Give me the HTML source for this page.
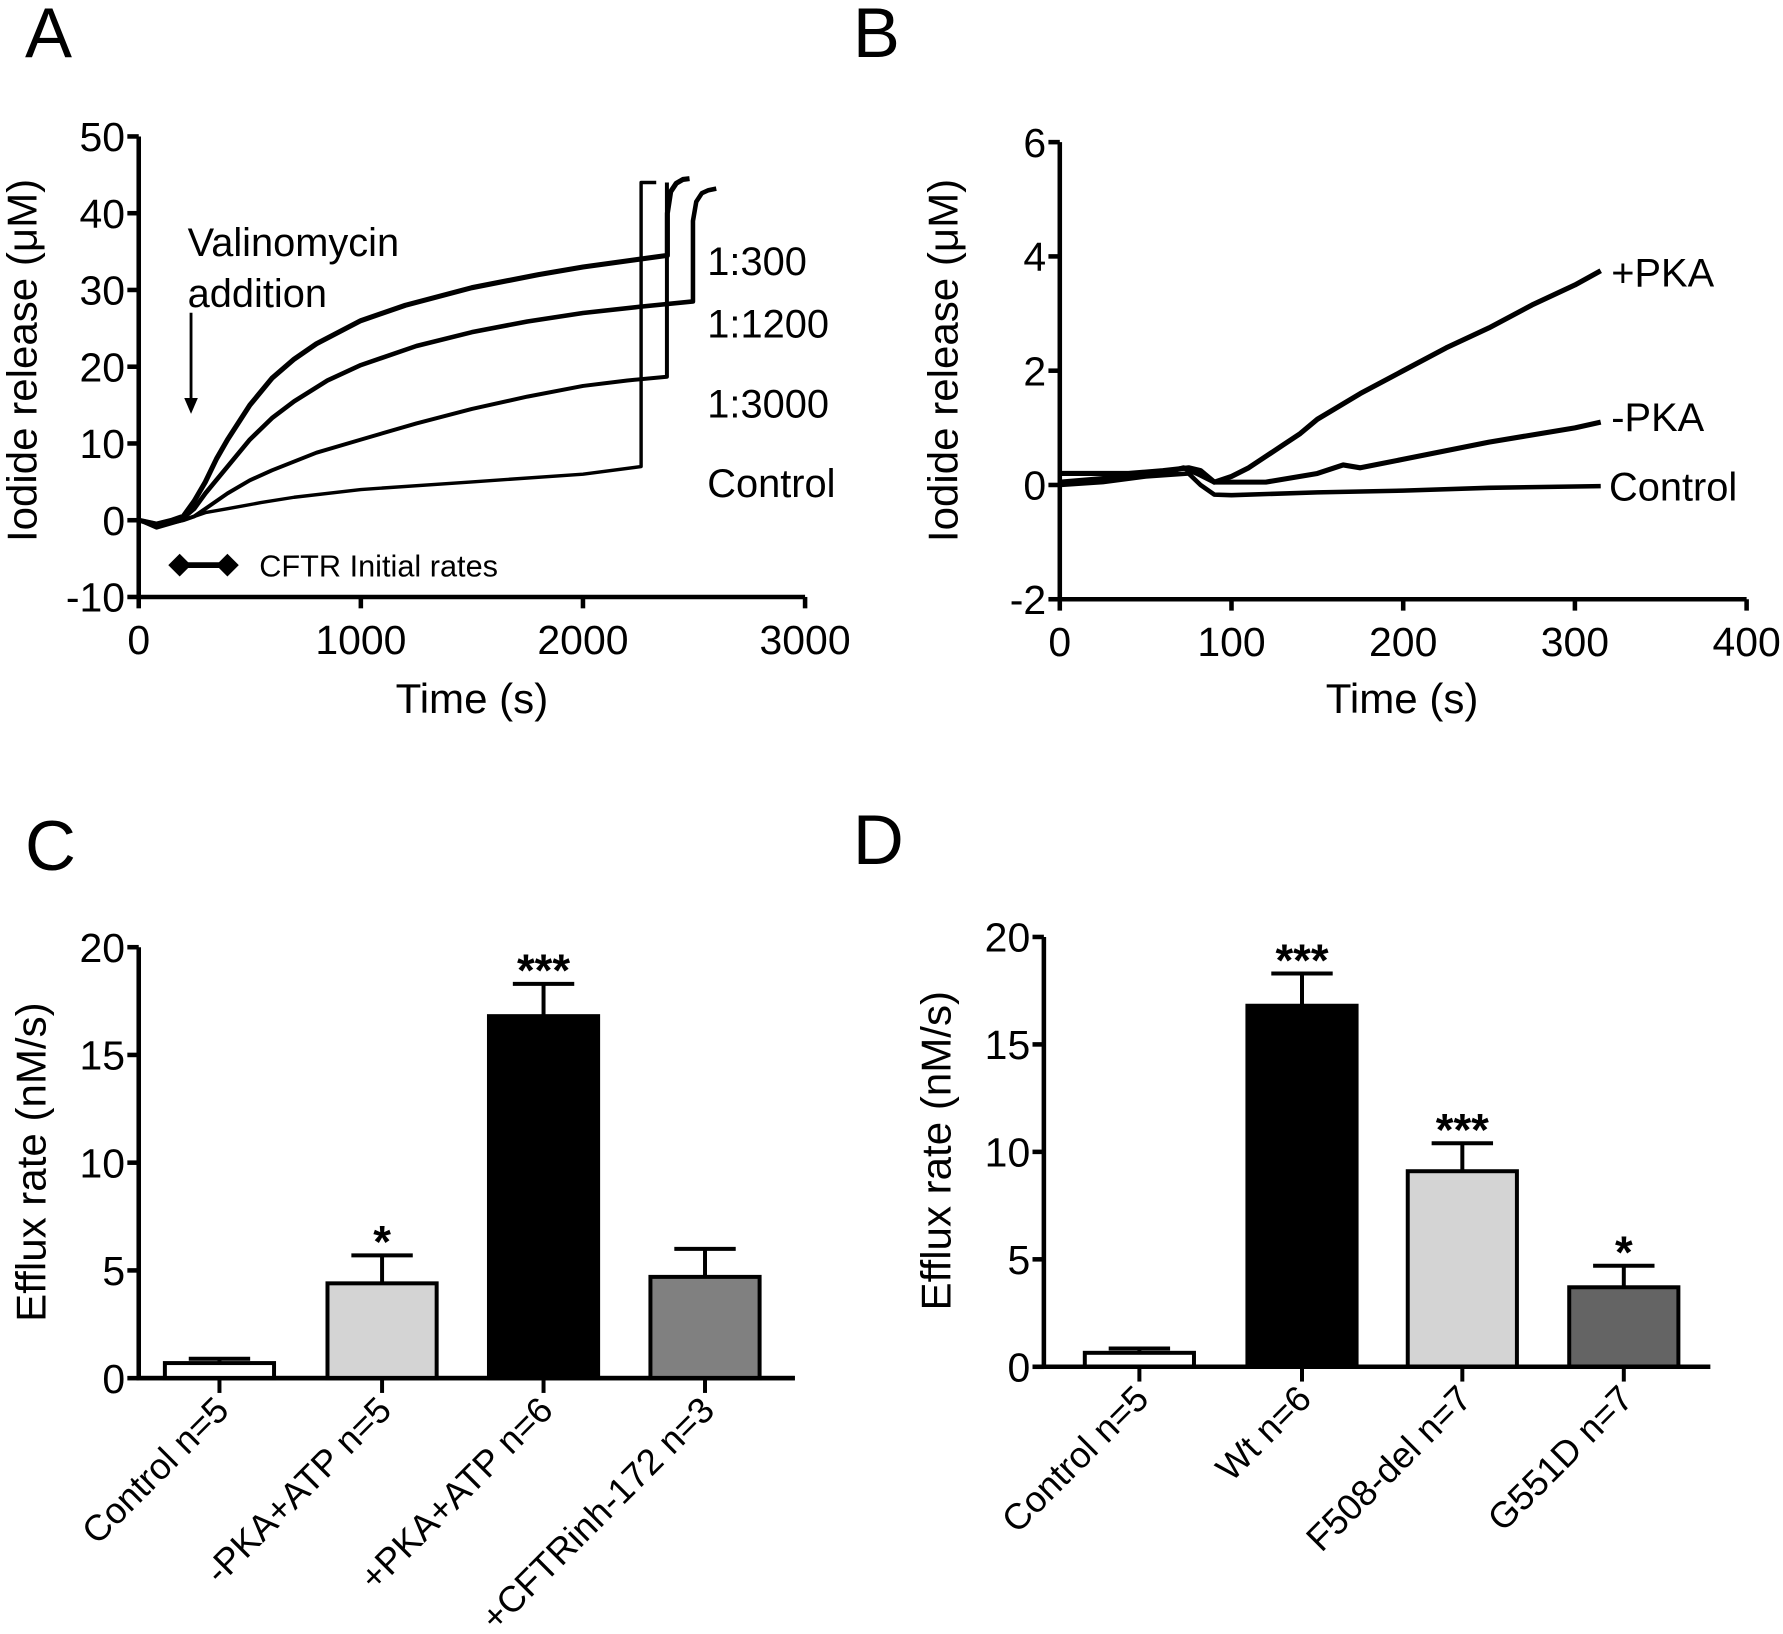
<!DOCTYPE html>
<html><head><meta charset="utf-8"><style>
html,body{margin:0;padding:0;background:#fff;}
svg{display:block;font-family:"Liberation Sans",Arial,sans-serif;}
</style></head><body>
<svg id="fig" width="1783" height="1634" viewBox="0 0 1568 1437" preserveAspectRatio="none" xmlns="http://www.w3.org/2000/svg">
<rect width="1568" height="1437" fill="#fff"/>
<g id="gA"></g>
<g id="gB"></g>
<g id="gC"></g>
<g id="gD"></g>
</svg>
<script>
// ---- Panel A data ----
const aXTicks = [0, 1000, 2000, 3000];
const aYTicks = [-10, 0, 10, 20, 30, 40, 50];
const a300T = [0, 80, 150, 200, 250, 300, 350, 400, 500, 600, 700, 800, 1000, 1200, 1500, 1800, 2000, 2200, 2380, 2380, 2395, 2420, 2450, 2480];
const a300V = [0, -0.5, 0, 0.5, 2.5, 5, 8, 10.5, 15, 18.5, 21, 23, 26, 28, 30.3, 32, 33, 33.8, 34.5, 40, 42.8, 43.9, 44.4, 44.5];
const a1200T = [0, 80, 150, 200, 250, 300, 400, 500, 600, 700, 850, 1000, 1250, 1500, 1750, 2000, 2250, 2495, 2495, 2510, 2535, 2565, 2600];
const a1200V = [0, -0.5, 0, 0.3, 1.5, 3.5, 7, 10.5, 13.3, 15.5, 18.2, 20.2, 22.7, 24.5, 25.9, 27, 27.8, 28.5, 39, 41.5, 42.6, 43, 43.2];
const a3000T = [0, 80, 200, 250, 300, 400, 500, 600, 800, 1000, 1250, 1500, 1750, 2000, 2200, 2378, 2378];
const a3000V = [0, -0.8, 0, 0.5, 1.5, 3.5, 5.2, 6.5, 8.8, 10.5, 12.6, 14.5, 16.1, 17.5, 18.2, 18.7, 44];
const aCtrlT = [0, 80, 200, 300, 400, 550, 700, 1000, 1500, 2000, 2262, 2262, 2330];
const aCtrlV = [0, -1, 0, 1, 1.5, 2.3, 3, 4, 5, 6, 7, 44, 44];
// ---- Panel B data ----
const bXTicks = [0, 100, 200, 300, 400];
const bYTicks = [-2, 0, 2, 4, 6];
const bPlusT = [0, 20, 40, 60, 75, 82, 90, 100, 110, 120, 130, 140, 150, 175, 200, 225, 250, 275, 300, 315];
const bPlusV = [0.2, 0.2, 0.2, 0.25, 0.3, 0.25, 0.05, 0.15, 0.3, 0.5, 0.7, 0.9, 1.15, 1.6, 2.0, 2.4, 2.75, 3.15, 3.5, 3.75];
const bMinusT = [0, 20, 40, 60, 72, 80, 90, 120, 150, 165, 175, 200, 250, 300, 315];
const bMinusV = [0.05, 0.1, 0.15, 0.2, 0.3, 0.2, 0.05, 0.05, 0.2, 0.35, 0.3, 0.45, 0.75, 1.0, 1.1];
const bCtrlT = [0, 25, 50, 75, 82, 90, 100, 150, 200, 250, 315];
const bCtrlV = [0.0, 0.05, 0.15, 0.2, 0.0, -0.17, -0.18, -0.13, -0.1, -0.05, -0.02];
// ---- Panel C data ----
const cCats = ["Control n=5", "-PKA+ATP n=5", "+PKA+ATP n=6", "+CFTRinh-172 n=3"];
const cVals = [0.7, 4.4, 16.8, 4.7];
const cErr = [0.2, 1.3, 1.5, 1.3];
const cSig = ["", "*", "***", ""];
const cFill = ["#ffffff", "#d4d4d4", "#000000", "#808080"];
const cYTicks = [0, 5, 10, 15, 20];
// ---- Panel D data ----
const dCats = ["Control n=5", "Wt n=6", "F508-del n=7", "G551D n=7"];
const dVals = [0.65, 16.8, 9.1, 3.7];
const dErr = [0.2, 1.5, 1.3, 1.0];
const dSig = ["", "***", "***", "*"];
const dFill = ["#ffffff", "#000000", "#d4d4d4", "#646464"];
const dYTicks = [0, 5, 10, 15, 20];

const NS = "http://www.w3.org/2000/svg";
function mk(parent, tag, attrs, txt) {
  const e = document.createElementNS(NS, tag);
  for (const k in attrs) e.setAttribute(k, attrs[k]);
  if (txt !== undefined) e.textContent = txt;
  parent.appendChild(e);
  return e;
}
function lin(d0, d1, r0, r1) { return v => r0 + (v - d0) / (d1 - d0) * (r1 - r0); }

function axes(g, x0, x1, yTop, yBot, xs, ys, xTicks, yTicks, yLabel, ylx, yly, xTitle, xtx, xty) {
  let e = mk(g, "line", {x1: x0, y1: yTop, x2: x0, y2: yBot, stroke: "#000", "stroke-width": 4});
  
  
  e = mk(g, "line", {x1: x0 - 2, y1: yBot, x2: x1, y2: yBot, stroke: "#000", "stroke-width": 4});
  
  
  yTicks.forEach(t => {
    const y = ys(t);
    mk(g, "line", {x1: x0 - 10, y1: y, x2: x0, y2: y, stroke: "#000", "stroke-width": 4});
    e = mk(g, "text", {x: x0 - 12, y: y + 13, "font-size": 36, "text-anchor": "end"}, String(t));
    
    
  });
  if (xTicks) xTicks.forEach(t => {
    const x = xs(t);
    mk(g, "line", {x1: x, y1: yBot, x2: x, y2: yBot + 10, stroke: "#000", "stroke-width": 4});
    e = mk(g, "text", {x: x, y: yBot + 50, "font-size": 36, "text-anchor": "middle"}, String(t));
    
    
  });
  e = mk(g, "text", {x: ylx, y: yly, "font-size": 37, "text-anchor": "middle", transform: `rotate(-90 ${ylx} ${yly})`}, yLabel);
  
  
  if (xTitle) {
    e = mk(g, "text", {x: xtx, y: xty, "font-size": 37, "text-anchor": "middle"}, xTitle);
    
    
  }
}
function series(g, T, V, xs, ys, name, w) {
  const d = T.map((t, i) => (i ? "L" : "M") + xs(t).toFixed(1) + "," + ys(V[i]).toFixed(1)).join(" ");
  const p = mk(g, "path", {d: d, fill: "none", stroke: "#000", "stroke-width": w, "stroke-linejoin": "round"});
  
  
}
function label(g, x, y, s, size, name, anchor) {
  const e = mk(g, "text", {x: x, y: y, "font-size": size, "text-anchor": anchor || "start"}, s);
  
  
  return e;
}

// Panel A
(function () {
  const g = document.getElementById("gA");
  const xs = lin(0, 3000, 122, 708), ys = lin(-10, 50, 525, 120);
  axes(g, 122, 708, 120, 525, xs, ys, aXTicks, aYTicks, "Iodide release (\u03bcM)", 32, 317, "Time (s)", 415, 627);
  series(g, a300T, a300V, xs, ys, "curve-1-300", 4.5);
  series(g, a1200T, a1200V, xs, ys, "curve-1-1200", 4);
  series(g, a3000T, a3000V, xs, ys, "curve-1-3000", 3.5);
  series(g, aCtrlT, aCtrlV, xs, ys, "curve-control", 3);
  label(g, 22, 50, "A", 62, "panel-label-a");
  label(g, 622, 242, "1:300", 35, "label-1-300");
  label(g, 622, 297, "1:1200", 35, "label-1-1200");
  label(g, 622, 367, "1:3000", 35, "label-1-3000");
  label(g, 622, 437, "Control", 35, "label-control");
  label(g, 165, 225, "Valinomycin", 35, "annotation-valinomycin");
  label(g, 165, 270, "addition", 35, "annotation-addition");
  let e = mk(g, "line", {x1: 168, y1: 275, x2: 168, y2: 355, stroke: "#000", "stroke-width": 2.5});
  
  
  e = mk(g, "path", {d: "M162,350 L174,350 L168,364 Z", fill: "#000"});
  
  
  e = mk(g, "g", {});
  
  
  mk(e, "line", {x1: 158, y1: 497, x2: 200, y2: 497, stroke: "#000", "stroke-width": 5});
  mk(e, "path", {d: "M148,497 L158,487 L168,497 L158,507 Z", fill: "#000"});
  mk(e, "path", {d: "M190,497 L200,487 L210,497 L200,507 Z", fill: "#000"});
  label(g, 228, 507, "CFTR Initial rates", 27, "legend-text");
})();

// Panel B
(function () {
  const g = document.getElementById("gB");
  const xs = lin(0, 400, 932, 1536), ys = lin(-2, 6, 527, 125);
  axes(g, 932, 1536, 125, 527, xs, ys, bXTicks, bYTicks, "Iodide release (\u03bcM)", 842, 317, "Time (s)", 1233, 627);
  series(g, bPlusT, bPlusV, xs, ys, "curve-plus-pka", 4.5);
  series(g, bMinusT, bMinusV, xs, ys, "curve-minus-pka", 4.5);
  series(g, bCtrlT, bCtrlV, xs, ys, "curve-control-b", 4);
  label(g, 750, 50, "B", 62, "panel-label-b");
  label(g, 1417, 252, "+PKA", 35, "label-plus-pka");
  label(g, 1417, 379, "-PKA", 35, "label-minus-pka");
  label(g, 1415, 440, "Control", 35, "label-control-b");
})();

function bars(gid, cats, vals, errs, sig, fills, yT, x0, x1, yTop, yBot, centers, half, yl, ylx, yly, letter, lx, ly) {
  const g = document.getElementById(gid);
  const ys = lin(0, 20, yBot, yTop);
  axes(g, x0, x1, yTop, yBot, null, ys, null, yT, yl, ylx, yly);
  label(g, lx, ly, letter, 62, "panel-label-" + letter.toLowerCase());
  cats.forEach((c, i) => {
    const cx = centers[i], top = ys(vals[i]), et = ys(vals[i] + errs[i]);
    let e = mk(g, "line", {x1: cx, y1: top, x2: cx, y2: et, stroke: "#000", "stroke-width": 3.5});
    
    
    mk(g, "line", {x1: cx - 27, y1: et, x2: cx + 27, y2: et, stroke: "#000", "stroke-width": 3.5});
    e = mk(g, "rect", {x: cx - half, y: top, width: 2 * half, height: yBot - top, fill: fills[i], stroke: "#000", "stroke-width": 3.5});
    
    
    mk(g, "line", {x1: cx, y1: yBot, x2: cx, y2: yBot + 13, stroke: "#000", "stroke-width": 3.5});
    if (sig[i]) {
      e = label(g, cx, et + 2, sig[i], 40, "significance-marker", "middle");
      e.setAttribute("font-weight", "bold");
    }
    const tx = cx + 10, ty = yBot + 30;
    e = mk(g, "text", {x: tx, y: ty, "font-size": 32, "text-anchor": "end", transform: `rotate(-45 ${tx} ${ty})`}, c);
    
    
  });
  mk(g, "line", {x1: x0 - 2, y1: yBot, x2: x1, y2: yBot, stroke: "#000", "stroke-width": 4});
}
bars("gC", cCats, cVals, cErr, cSig, cFill, cYTicks, 122, 699, 833, 1212, [193, 336, 478, 620], 48,
     "Efflux rate (nM/s)", 40, 1022, "C", 22, 765);
bars("gD", dCats, dVals, dErr, dSig, dFill, dYTicks, 918, 1504, 824, 1202, [1002, 1145, 1286, 1428], 48,
     "Efflux rate (nM/s)", 836, 1012, "D", 750, 760);
</script>
</body></html>
